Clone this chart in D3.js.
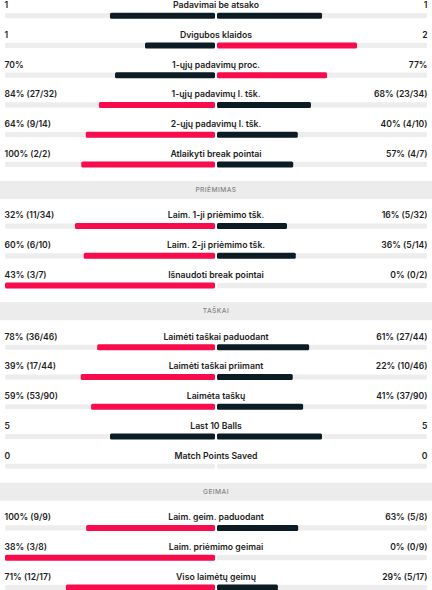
<!DOCTYPE html>
<html>
<head>
<meta charset="utf-8">
<script src="https://cdn.jsdelivr.net/npm/d3@7"></script>
<style>
  body { margin: 0; background: #fff; }
  text { font-family: Inter, "Noto Sans", sans-serif; }
</style>
</head>
<body>
<div id="chart"></div>
<script>
// stats table
const labels = [
  "Padavimai be atsako", "Dvigubos klaidos", "1-ųjų padavimų proc.", "1-ųjų padavimų l. tšk.",
  "2-ųjų padavimų l. tšk.", "Atlaikyti break pointai",
  "Laim. 1-ji priėmimo tšk.", "Laim. 2-ji priėmimo tšk.", "Išnaudoti break pointai",
  "Laimėti taškai paduodant", "Laimėti taškai priimant", "Laimėta taškų", "Last 10 Balls", "Match Points Saved",
  "Laim. geim. paduodant", "Laim. priėmimo geimai", "Viso laimėtų geimų"
];
const leftText = ["1", "1", "70%", "84% (27/32)", "64% (9/14)", "100% (2/2)",
  "32% (11/34)", "60% (6/10)", "43% (3/7)",
  "78% (36/46)", "39% (17/44)", "59% (53/90)", "5", "0",
  "100% (9/9)", "38% (3/8)", "71% (12/17)"];
const rightText = ["1", "2", "77%", "68% (23/34)", "40% (4/10)", "57% (4/7)",
  "16% (5/32)", "36% (5/14)", "0% (0/2)",
  "61% (27/44)", "22% (10/46)", "41% (37/90)", "5", "0",
  "63% (5/8)", "0% (0/9)", "29% (5/17)"];
const leftVal = [1, 1, 70, 84, 64, 100, 32, 60, 43, 78, 39, 59, 5, 0, 100, 38, 71];
const rightVal = [1, 2, 77, 68, 40, 57, 16, 36, 0, 61, 22, 41, 5, 0, 63, 0, 29];
const sectionOf = [0, 0, 0, 0, 0, 0, 1, 1, 1, 2, 2, 2, 2, 2, 3, 3, 3];
const sectionNames = ["", "PRIĖMIMAS", "TAŠKAI", "GEIMAI"];

const W = 432, H = 590;
const RED = "#f80c4c", DARK = "#0c1c24", TRACK = "#ededed", BAND = "#ececec";

const svg = d3.select("#chart").append("svg")
  .attr("width", W)
  .attr("height", H);

const rows = labels.map((l, i) => ({
  label: l, lt: leftText[i], rt: rightText[i],
  l: leftVal[i], r: rightVal[i], s: sectionOf[i], i: i
}));

// vertical placement: row pitch plus extra room per section header
const rowY = d3.scaleLinear().domain([0, 1]).range([5, 34.75]);
const secY = d3.scaleLinear().domain([0, 1]).range([0, 31.9]);
const yOf = d => rowY(d.i) + secY(d.s);

// bar length: share of the pair
const half = d3.scaleLinear().domain([0, 1]).range([0, 210]);
const cx = 216;

// section bands
const firstRows = sectionNames.map((n, s) => rows.find(d => d.s === s)).slice(1);
const bands = svg.selectAll(".band").data(firstRows).enter().append("g");
bands.append("rect")
  .attr("x", 0).attr("width", W)
  .attr("y", d => yOf(d) - 25.4 - 9)
  .attr("height", 18)
  .attr("fill", BAND);
bands.append("text")
  .attr("x", cx)
  .attr("y", d => yOf(d) - 25.4)
  .attr("text-anchor", "middle")
  .attr("dominant-baseline", "central")
  .style("font-size", "6.7px")
  .style("font-weight", 500)
  .style("letter-spacing", "0.4px")
  .style("fill", "#858585")
  .text(d => sectionNames[d.s]);

const g = svg.selectAll(".row").data(rows).enter().append("g")
  .attr("transform", d => `translate(0, ${yOf(d)})`);

g.append("text")
  .attr("x", cx).attr("y", 0)
  .attr("text-anchor", "middle")
  .attr("dominant-baseline", "central")
  .style("font-size", "8.7px").style("font-weight", 600).style("fill", "#1e1e1e")
  .text(d => d.label);

g.append("text")
  .attr("x", 4.5).attr("y", 0)
  .attr("dominant-baseline", "central")
  .style("font-size", "8.6px").style("font-weight", 600).style("fill", "#1e1e1e")
  .text(d => d.lt);

g.append("text")
  .attr("x", 427.5).attr("y", 0)
  .attr("text-anchor", "end")
  .attr("dominant-baseline", "central")
  .style("font-size", "8.6px").style("font-weight", 600).style("fill", "#1e1e1e")
  .text(d => d.rt);

// tracks
g.append("rect")
  .attr("x", cx - 1 - half(1)).attr("y", 10.7 - 2.6)
  .attr("width", half(1)).attr("height", 5.2)
  .attr("rx", 1.5).attr("fill", TRACK);
g.append("rect")
  .attr("x", cx + 1).attr("y", 10.7 - 2.6)
  .attr("width", half(1)).attr("height", 5.2)
  .attr("rx", 1.5).attr("fill", TRACK);

const share = (a, b) => (a + b) === 0 ? 0 : a / (a + b);

// bars
g.append("rect")
  .attr("x", d => cx - 1 - half(share(d.l, d.r)))
  .attr("y", 10.7 - 3)
  .attr("width", d => half(share(d.l, d.r)))
  .attr("height", 6)
  .attr("rx", 1.5)
  .attr("fill", d => d.l > d.r ? RED : DARK);
g.append("rect")
  .attr("x", cx + 1)
  .attr("y", 10.7 - 3)
  .attr("width", d => half(share(d.r, d.l)))
  .attr("height", 6)
  .attr("rx", 1.5)
  .attr("fill", d => d.r > d.l ? RED : DARK);
</script>
</body>
</html>
